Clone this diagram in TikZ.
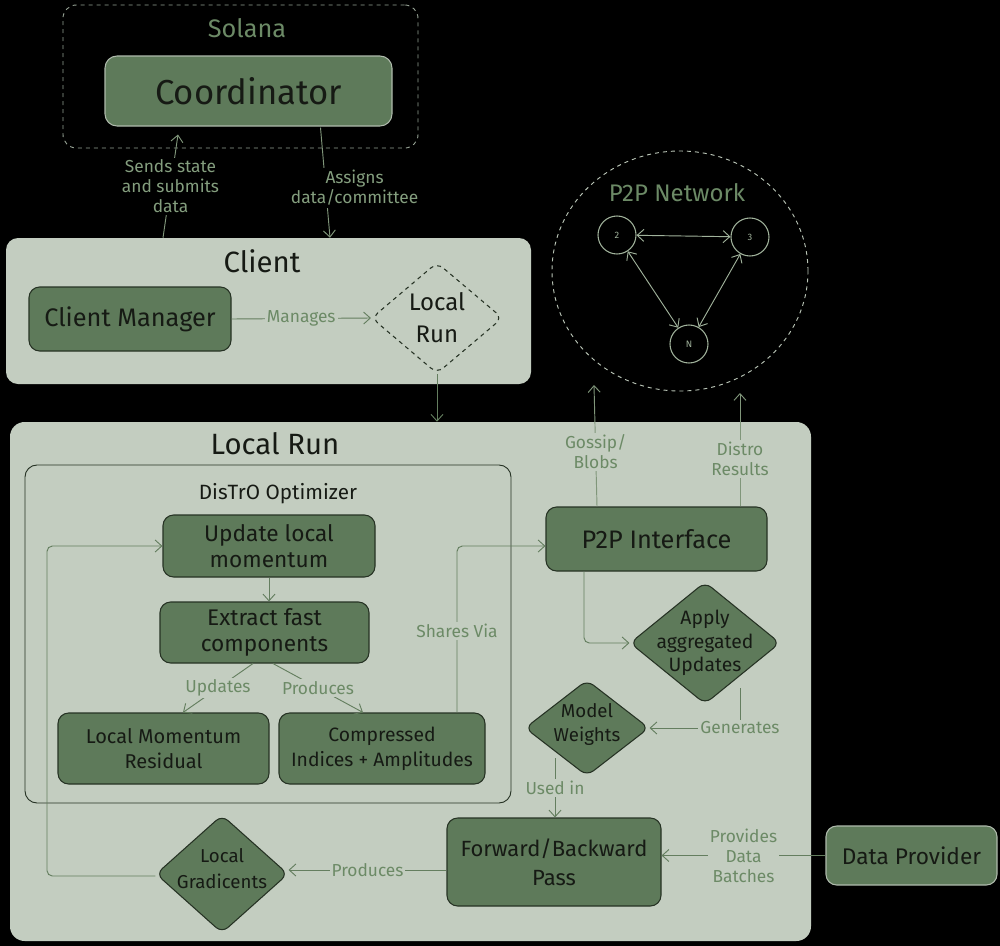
\documentclass[tikz,border=0pt]{standalone}
\usepackage{fontspec}
\setmainfont{Fira Sans}
\usetikzlibrary{shapes.geometric,arrows.meta,calc}
\definecolor{panelc}{RGB}{195,205,192}
\definecolor{nodefill}{RGB}{94,122,90}
\definecolor{nodeline}{RGB}{38,50,36}
\definecolor{lblc}{RGB}{108,138,102}
\definecolor{lblD}{RGB}{132,158,126}
\definecolor{edgec}{RGB}{100,126,95}
\definecolor{edgeD}{RGB}{128,150,122}
\definecolor{txtc}{RGB}{22,26,20}
\definecolor{dashc}{RGB}{150,162,148}
\definecolor{netc}{RGB}{185,196,182}
\definecolor{peerc}{RGB}{160,178,155}
\definecolor{lightbord}{RGB}{175,186,172}
\begin{document}
\begin{tikzpicture}[x=0.75pt,y=-0.75pt,
  sz/.style 2 args={minimum width={#1*0.75pt},minimum height={#2*0.75pt}},
  fs/.style 2 args={font=\fontsize{#1}{#2}\selectfont},
  panel/.style={fill=panelc, draw=none, rounded corners=9pt, inner sep=0},
  box/.style={draw=nodeline, fill=nodefill, rounded corners=8pt, line width=0.8pt, text=txtc, align=center, inner sep=0},
  dia/.style={shape=diamond, draw=nodeline, fill=nodefill, rounded corners=6pt, line width=0.8pt, inner sep=0},
  dtext/.style={text=txtc, align=center, inner sep=0},
  ptitle/.style={text=txtc, inner sep=0},
  titleD/.style={text=lblc, inner sep=0},
  lab/.style={text=lblc, fill=panelc, inner sep=1.5pt, align=center, fs={13}{15}},
  labD/.style={text=lblD, fill=black, inner sep=1.5pt, align=center, fs={13}{15}},
  conn/.style={draw=edgec, line width=0.7pt, -{Straight Barb[length=5pt,width=9pt]}},
  connD/.style={draw=edgeD, line width=0.7pt, -{Straight Barb[length=5pt,width=9pt]}},
  netarrow/.style={draw=peerc, line width=0.7pt, {Straight Barb[length=5pt,width=9pt]}-{Straight Barb[length=5pt,width=9pt]}},
  peer/.style={circle, draw=peerc, line width=0.8pt, text=peerc, fs={7}{8}, minimum size={38*0.75pt}, inner sep=0}
]
\fill[black] (0,0) rectangle (1000,946);
\useasboundingbox (0,0) rectangle (1000,946);

% x positions
\coordinate (xa) at (163,0);
\coordinate (xb) at (330,0);
\coordinate (xc) at (584,0);
\coordinate (xd) at (597,0);
\coordinate (xe) at (740,0);
\coordinate (xf) at (457,0);
\coordinate (xg) at (253,0);
\coordinate (xh) at (183,0);
\coordinate (xi) at (273,0);
\coordinate (xj) at (363,0);
\coordinate (xl) at (47,0);
\coordinate (gtip) at (594,385);
\coordinate (dtip) at (740,393);
\coordinate (gstart) at (740,688);
\coordinate (ustart) at (555,758);

% Solana
\node[draw=dashc, dashed, rounded corners=10pt, line width=0.7pt, sz={355}{143}, inner sep=0] (solana) at (240.5,76.5) {};
\node[titleD, fs={19}{22}] (solT) at (247,28) {Solana};
\node[box, draw=lightbord, rounded corners=9pt, sz={287}{70}, fs={26}{30}] (coord) at (248.5,91) {Coordinator};

% P2P network
\node[ellipse, draw=netc, dashed, line width=0.7pt, sz={256}{240}, inner sep=0] (net) at (680,271) {};
\node[titleD, fs={18}{22}] (netT) at (677,193) {P2P Network};
\node[peer] (p2) at (617,235) {2};
\node[peer] (p3) at (750,237) {3};
\node[peer] (pN) at (689,344) {N};
\draw[netarrow] (p2) -- (p3);
\draw[netarrow] (p2) -- (pN);
\draw[netarrow] (p3) -- (pN);

% Client
\node[panel, sz={525}{146}] (client) at (268.5,311) {};
\node[ptitle, fs={22}{26}] (clientT) at (262,261) {Client};
\node[box, sz={202}{64}, fs={19}{22}] (cm) at (130,319) {Client Manager};
\node[dia, dashed, fill=none, sz={131}{111}] (lrd) at (437,318) {};
\node[dtext, fs={18}{24}] (lrdT) at (lrd) {Local\\Run};

% Local Run
\node[panel, rounded corners=11pt, sz={801}{519}] (lr) at (410.5,681.5) {};
\node[ptitle, fs={22}{26}] (lrT) at (275,444) {Local Run};
\node[draw=nodeline, line width=0.7pt, rounded corners=9pt, sz={486}{338}, inner sep=0] (opt) at (268,634) {};
\node[ptitle, fs={15.5}{18}] (optT) at (278,494) {DisTrO Optimizer};
\node[box, sz={212}{62}, fs={17}{20}] (upd) at (269,546) {Update local\\momentum};
\node[box, sz={209}{61}, fs={17}{20}] (ext) at (264.5,632.5) {Extract fast\\components};
\node[box, sz={211}{71}, fs={15}{19}] (lmr) at (163.5,748.5) {Local Momentum\\Residual};
\node[box, sz={206}{71}, fs={14.5}{19}] (cia) at (382,748.5) {Compressed\\Indices + Amplitudes};
\node[box, sz={221}{64}, fs={19}{22}] (p2pi) at (656.5,539) {P2P Interface};
\node[dia, sz={150}{122}] (apply) at (705,643) {};
\node[dtext, fs={14.5}{17.5}] (applyT) at (apply) {Apply\\aggregated\\Updates};
\node[dia, sz={124}{96}] (mw) at (587,728) {};
\node[dtext, fs={14}{18}, yshift=3pt] (mwT) at (mw) {Model\\Weights};
\node[box, sz={214}{88}, fs={16.5}{22}] (fb) at (554,862) {Forward/Backward\\Pass};
\node[box, draw=lightbord, sz={171}{59}, fs={17}{20}] (dp) at (911.5,855.5) {Data Provider};
\node[dia, sz={132}{118}] (lg) at (222,874) {};
\node[dtext, fs={14}{19}, yshift=4pt] (lgT) at (lg) {Local\\Gradicents};

% connectors
\draw[connD] (client.north -| xa) -- node[labD]{Sends state\\and submits\\data} ($(coord.south)+(-70.5,8)$);
\draw[connD] ($(coord.south)+(72,1)$) -- node[labD, xshift=22pt, yshift=-4pt]{Assigns\\data/committee} (client.north -| xb);
\draw[conn] (cm.east) -- node[lab]{Manages} (lrd.west);
\draw[conn] (lrd.south) -- (lrd.south |- lr.north);
\draw[conn] (upd.south) -- (upd.south |- ext.north);
\draw[conn] (ext.south -| xg) -- node[lab]{Updates} (lmr.north -| xh);
\draw[conn] (ext.south -| xi) -- node[lab]{Produces} (cia.north -| xj);
\draw[conn, rounded corners=4pt] (cia.north -| xf) |- node[lab, pos=0.245]{Shares Via} ($(p2pi.west)+(0,7)$);
\draw[conn, rounded corners=4pt] ($(lg.west)+(0,2)$) -- (xl |- {$(lg.west)+(0,2)$}) |- (upd.west);
\draw[connD] (p2pi.north -| xd) -- node[lab, pos=0.45]{Gossip/\\Blobs} (gtip);
\draw[connD] (p2pi.north -| xe) -- node[lab, pos=0.42]{Distro\\Results} (dtip);
\draw[conn, rounded corners=4pt] (p2pi.south -| xc) |- (apply.west);
\draw[conn] (gstart) |- node[lab, pos=0.5]{Generates} (mw.east);
\draw[conn] (ustart) -- node[lab]{Used in} (ustart |- fb.north);
\draw[conn] (dp.west) -- node[lab]{Provides\\Data\\Batches} (dp.west -| fb.east);
\draw[conn] (fb.west |- {$(lg.east)+(0,-4)$}) -- node[lab]{Produces} ($(lg.east)+(0,-4)$);
\end{tikzpicture}
\end{document}
